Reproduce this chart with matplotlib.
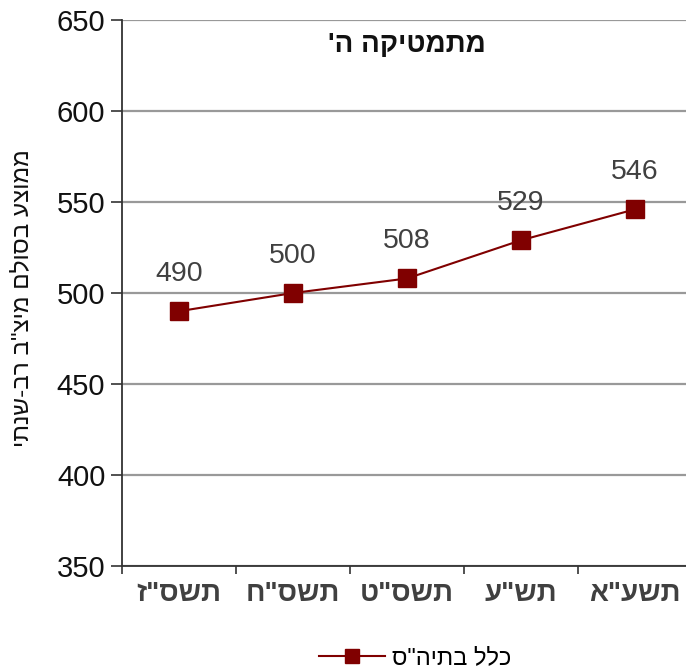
import matplotlib

matplotlib.use("Agg")
import matplotlib.pyplot as plt
import numpy as np

plt.rcParams["font.family"] = ["Liberation Sans", "DejaVu Sans"]

# Hebrew strings kept in logical order; reversed for display (matplotlib has no bidi)
years = ['תשס"ז', 'תשס"ח', 'תשס"ט', 'תש"ע', 'תשע"א']
scores = [490, 500, 508, 529, 546]
title = "מתמטיקה ה'"
y_label = 'ממוצע בסולם מיצ"ב רב-שנתי'
series_name = 'כלל בתיה"ס'
y_ticks = [350, 400, 450, 500, 550, 600, 650]


def rtl(s: str) -> str:
    return s[::-1]


fig = plt.figure(figsize=(6.86, 6.72), dpi=100)
ax = fig.add_axes([0.1778, 0.1577, 0.831, 0.8125])

x = np.arange(len(years))
line, = ax.plot(x, scores, color="#800000", lw=1.5, marker="s", markersize=13,
                markerfacecolor="#800000", markeredgecolor="#800000",
                label=rtl(series_name), zorder=3)

for xi, v in zip(x, scores):
    ax.annotate(str(v), (xi, v), xytext=(0, 27), textcoords="offset points",
                ha="center", va="center", fontsize=20.5, color="#404040")

ax.set_xlim(-0.5, len(years) - 0.5)
ax.set_ylim(350, 650)
ax.set_yticks(y_ticks)
ax.tick_params(axis="y", labelsize=21, length=8, width=1.2, color="#333333",
               labelcolor="#111111", pad=4)
ax.yaxis.grid(True, color="#999999", lw=1.6)
ax.set_axisbelow(True)

ax.set_xticks(x)
ax.set_xticklabels([rtl(y) for y in years], fontsize=20, fontweight="bold",
                   color="#404040")
ax.set_xticks(np.arange(len(years)) - 0.5, minor=True)
ax.tick_params(axis="x", which="major", length=0, pad=11)
ax.tick_params(axis="x", which="minor", length=6, width=1.2, color="#333333")

for side in ("top", "right"):
    ax.spines[side].set_visible(False)
for side in ("left", "bottom"):
    ax.spines[side].set_color("#333333")
    ax.spines[side].set_linewidth(1.3)

ax.text(0.5, 0.955, rtl(title), transform=ax.transAxes, ha="center", va="center",
        fontsize=20, fontweight="bold", color="#111111")

fig.text(0.032, 0.557, rtl(y_label), rotation=90, ha="center", va="center",
         fontsize=17.5, color="#111111")

fig.legend(handles=[line], loc="center", bbox_to_anchor=(0.605, 0.021),
           frameon=False, fontsize=17, handlelength=2.8, handletextpad=0.3,
           markerscale=0.75)

fig.savefig("out.png", dpi=100)
